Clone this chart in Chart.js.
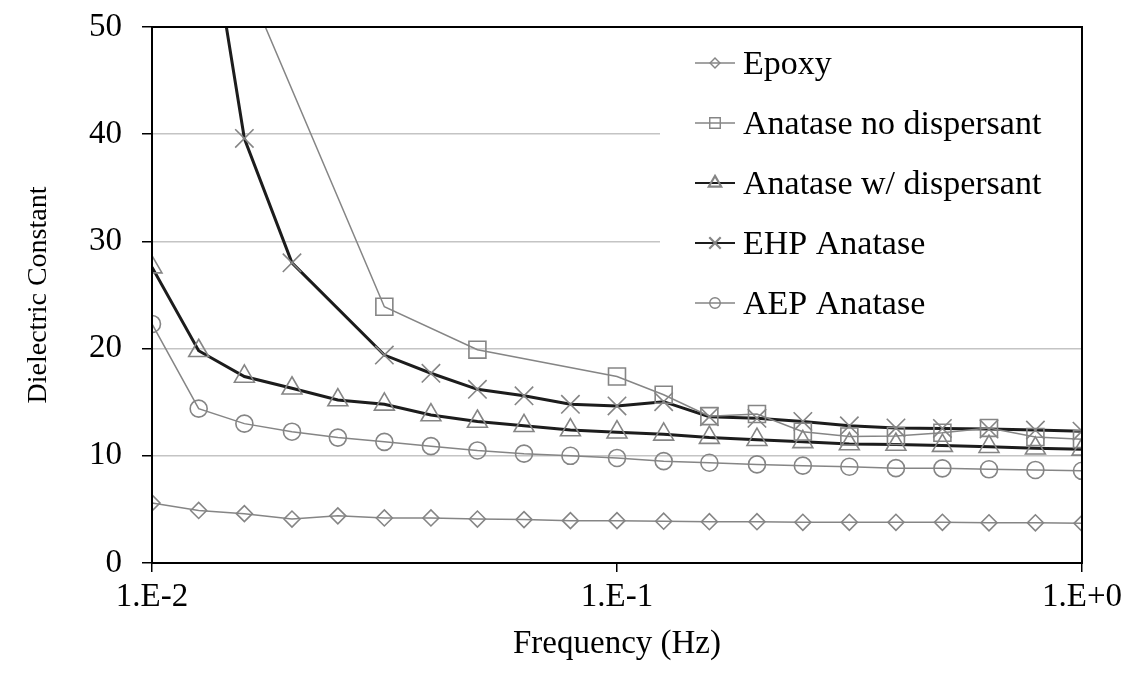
<!DOCTYPE html>
<html>
<head>
<meta charset="utf-8">
<title>Dielectric Constant vs Frequency</title>
<script src="https://cdn.jsdelivr.net/npm/chart.js@4.4.1/dist/chart.umd.min.js"></script>
<style>
  html, body { margin: 0; padding: 0; background: #fff; }
  #wrap { width: 1128px; height: 688px; position: relative; }
</style>
</head>
<body>
<div id="wrap"><canvas id="chart"></canvas></div>
<script>
// frequency points (Hz), 10 per decade
const freq = [0.01, 0.0126, 0.0158, 0.02, 0.0251, 0.0316, 0.0398, 0.0501, 0.0631, 0.0794,
              0.1, 0.126, 0.158, 0.2, 0.251, 0.316, 0.398, 0.501, 0.631, 0.794, 1.0];

const epoxy = [5.6, 4.9, 4.6, 4.1, 4.4, 4.2, 4.2, 4.1, 4.05, 3.95,
               3.95, 3.9, 3.85, 3.85, 3.8, 3.8, 3.8, 3.8, 3.75, 3.75, 3.7];
const anataseNoDisp = [null, null, 54.6, null, null, 23.9, null, 19.9, null, null,
                       17.4, 15.7, 13.7, 13.9, 12.25, 11.8, 11.85, 12.15, 12.6, 11.75, 11.55];
const anataseWDisp = [27.6, 19.8, 17.4, 16.3, 15.2, 14.8, 13.8, 13.2, 12.8, 12.4,
                      12.2, 12.0, 11.7, 11.5, 11.3, 11.1, 11.05, 10.95, 10.85, 10.7, 10.6];
const ehpAnatase = [null, 66.0, 39.6, 28.0, null, 19.4, 17.7, 16.2, 15.6, 14.8,
                    14.65, 15.05, 13.65, 13.5, 13.2, 12.8, 12.6, 12.55, 12.5, 12.4, 12.3];
const aepAnatase = [22.3, 14.4, 13.0, 12.25, 11.7, 11.3, 10.9, 10.5, 10.2, 10.0,
                    9.8, 9.5, 9.35, 9.2, 9.08, 8.98, 8.85, 8.83, 8.74, 8.68, 8.6];

const seriesNames = ['Epoxy', 'Anatase no dispersant', 'Anatase w/ dispersant', 'EHP Anatase', 'AEP Anatase'];
const xTickValues = [0.01, 0.1, 1];
const xTickLabels = ['1.E-2', '1.E-1', '1.E+0'];

const GREY = '#858585';
const DARK = '#1c1c1c';
const FONT = "'Liberation Serif', 'Times New Roman', serif";

function toPoints(values) {
  return freq.map((f, i) => ({ x: f, y: values[i] }));
}

function series(label, values, style, lineColor, lineWidth, radius) {
  return {
    label: label,
    data: toPoints(values),
    borderColor: lineColor,
    borderWidth: lineWidth,
    pointStyle: style,
    pointRadius: radius,
    pointBorderColor: GREY,
    pointBorderWidth: 1.6,
    pointBackgroundColor: 'rgba(0,0,0,0)',
    spanGaps: true,
    tension: 0
  };
}

const datasets = [
  series(seriesNames[0], epoxy, 'rectRot', GREY, 1.5, 8),
  series(seriesNames[1], anataseNoDisp, 'rect', GREY, 1.5, 12),
  series(seriesNames[2], anataseWDisp, 'triangle', DARK, 3, 11.5),
  series(seriesNames[3], ehpAnatase, 'crossRot', DARK, 3, 13),
  series(seriesNames[4], aepAnatase, 'circle', GREY, 1.5, 8.5)
];

// white legend box over the gridlines, drawn before the lines
const legendBox = { left: 660, top: 28, right: 1081, bottom: 330 };

const frameAndLegend = {
  id: 'frameAndLegend',
  beforeDatasetsDraw(chart) {
    const ctx = chart.ctx;
    ctx.save();
    ctx.fillStyle = '#fff';
    ctx.fillRect(legendBox.left, legendBox.top,
                 legendBox.right - legendBox.left, legendBox.bottom - legendBox.top);
    ctx.restore();
  },
  afterDraw(chart) {
    const ctx = chart.ctx;
    const a = chart.chartArea;
    ctx.save();
    // plot frame
    ctx.strokeStyle = '#000';
    ctx.lineWidth = 2;
    ctx.strokeRect(a.left, a.top, a.right - a.left, a.bottom - a.top);

    // legend entries: short line with marker, then the label
    ctx.font = '34px ' + FONT;
    ctx.textBaseline = 'middle';
    ctx.textAlign = 'left';
    chart.data.datasets.forEach((ds, i) => {
      const y = 63 + i * 60;
      ctx.strokeStyle = ds.borderColor;
      ctx.lineWidth = ds.borderWidth > 2 ? 2.2 : 1.4;
      ctx.beginPath();
      ctx.moveTo(695, y);
      ctx.lineTo(735, y);
      ctx.stroke();
      ctx.strokeStyle = GREY;
      ctx.fillStyle = 'rgba(0,0,0,0)';
      Chart.helpers.drawPoint(ctx, {
        pointStyle: ds.pointStyle,
        radius: ds.pointRadius * 0.62,
        borderWidth: 1.4,
        rotation: 0
      }, 715, y);
      ctx.fillStyle = '#000';
      ctx.fillText(ds.label, 743, y + 2);
    });
    ctx.restore();
  }
};

new Chart(document.getElementById('chart'), {
  type: 'line',
  data: { datasets: datasets },
  plugins: [frameAndLegend],
  options: {
    responsive: true,
    maintainAspectRatio: false,
    animation: false,
    layout: { padding: { top: 27, right: 45, bottom: 0, left: 0 } },
    plugins: {
      legend: { display: false },
      tooltip: { enabled: false }
    },
    scales: {
      x: {
        type: 'logarithmic',
        min: 0.01,
        max: 1,
        afterBuildTicks(scale) {
          scale.ticks = xTickValues.map(v => ({ value: v }));
        },
        afterFit(scale) { scale.height = 125; },
        ticks: {
          autoSkip: false,
          maxRotation: 0,
          padding: 6,
          color: '#000',
          font: { family: FONT, size: 33 },
          callback(value) {
            const k = xTickValues.indexOf(value);
            return k >= 0 ? xTickLabels[k] : '';
          }
        },
        grid: {
          drawOnChartArea: false,
          drawTicks: true,
          tickLength: 9,
          color: '#000',
          lineWidth: 1.5
        },
        border: { display: true, color: '#000', width: 2 },
        title: {
          display: true,
          text: 'Frequency (Hz)',
          color: '#000',
          font: { family: FONT, size: 33 },
          padding: { top: 0, bottom: 24 }
        }
      },
      y: {
        min: 0,
        max: 50,
        afterFit(scale) {
          scale.width = 152;
          // labels only need half their height above the top tick
          scale.paddingTop = 10;
          scale.paddingBottom = 10;
        },
        ticks: {
          stepSize: 10,
          padding: 20,
          color: '#000',
          font: { family: FONT, size: 33 }
        },
        grid: {
          color: '#c4c4c4',
          lineWidth: 1.5,
          tickLength: 10,
          tickColor: '#000'
        },
        border: { display: true, color: '#000', width: 2 },
        title: {
          display: true,
          text: 'Dielectric Constant',
          color: '#000',
          font: { family: FONT, size: 28 },
          padding: { top: 22, bottom: 0 }
        }
      }
    }
  }
});
</script>
</body>
</html>
